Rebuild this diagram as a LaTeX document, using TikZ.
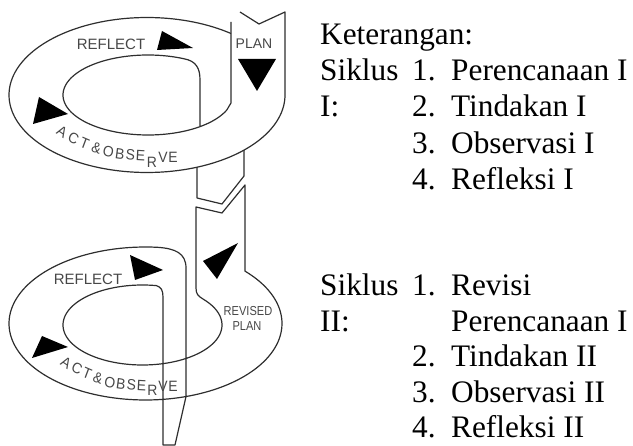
\documentclass[tikz,border=0pt]{standalone}
\usepackage{fontspec}
\setmainfont{Liberation Serif}
\newfontfamily\lblfamily{Liberation Sans}
\begin{document}
\begin{tikzpicture}[x=1pt,y=-1pt,
  ln/.style={draw=black!82, line width=1.2pt, line join=round},
  tri/.style={fill=black},
  lbl/.style={inner sep=0pt, text=black!72, font=\lblfamily\fontsize{15}{15}\selectfont},
  letter/.style={inner sep=0pt, text=black!72, font=\lblfamily\fontsize{15}{15}\selectfont, xscale=0.93},
  small/.style={inner sep=0pt, text=black!72, font=\lblfamily\fontsize{13}{13}\selectfont, xscale=0.85},
  txt/.style={inner sep=0pt, anchor=base west, font=\fontsize{31.3}{36}\selectfont}]
\useasboundingbox (0,0) rectangle (633,446);

% ---------- ring 1 ----------
% outer edge with PLAN strip
\draw[ln] (240,12) -- (259,24) -- (285,12) -- (285,95)
  -- plot[domain=0:307.5, samples=140] ({147+138*cos(\x)},{95+77.5*sin(\x)});
% inner edge with hole
\draw[ln] (231,22) -- (231,103)
  -- plot[domain=22:295, samples=120] ({148+85*cos(\x)},{95+40*sin(\x)})
  .. controls (196,61) and (200,68) .. (200,80) -- (200,126.6);
% strip leaving ring 1 (upper piece with break)
\draw[ln] (197,167.2) -- (197,198) -- (222,204) -- (244,176) -- (244,150.1);

% ---------- ring 2 ----------
\draw[ln] (245,185) -- (245,271.2)
  -- plot[domain=-43.2:275, samples=140] ({145.5+136.5*cos(\x)},{323.5+76.5*sin(\x)})
  .. controls (175,248.5) and (186,253) .. (186,268) -- (186,396.6) -- (175,445)
  -- (163,445) -- (163,297) .. controls (163,290) and (161,287) .. (156.3,285.6)
  -- plot[domain=0:320, samples=120] ({142.5+79.5*cos(280-\x)},{325+40*sin(280-\x)})
  .. controls (198,296) and (196,294) .. (196,288) -- (196,207) -- (222,213) -- cycle;

% ---------- arrowheads ----------
\fill[tri] (157,50) -- (162,31) -- (193,48) -- cycle;
\fill[tri] (238,59) -- (276,59) -- (257,91) -- cycle;
\fill[tri] (33,124) -- (39,97) -- (68,114) -- cycle;
\fill[tri] (130,255) -- (135,280) -- (163,270) -- cycle;
\fill[tri] (238,243) -- (203,261) -- (217,279) -- cycle;
\fill[tri] (32,358) -- (42,336) -- (68,347) -- cycle;

% ---------- labels ----------
\node[lbl] (refl1) at (111,44) {REFLECT};
\node[lbl, font=\lblfamily\fontsize{14}{14}\selectfont] (plan1) at (254,44) {PLAN};
\node[lbl] (refl2) at (88,279) {REFLECT};
\node[small] (rev2) at (248,311) {REVISED};
\node[small] (plan2) at (247,326) {PLAN};

\foreach \c/\px/\py/\r [count=\i] in {A/62/132/-32, C/73.5/138.5/-27, T/84.5/143/-22, \&/96.5/148/-17,
   O/108.5/152/-12, B/120/154/-8, S/130.5/155/-5, E/140.5/156/-3, R/152/162/0, V/163/157/0, E/173/157/0}
  \node[letter, rotate=\r] (actA\i) at (\px,\py) {\c};
\foreach \c/\px/\py/\r [count=\i] in {A/66/363/-32, C/77/368.5/-27, T/87/373/-22, \&/98/378/-17,
   O/110/382.5/-12, B/121/384/-8, S/131.5/385/-5, E/141.5/386/-3, R/152.5/390/0, V/163/386/0, E/173/386/0}
  \node[letter, rotate=\r] (actB\i) at (\px,\py) {\c};

% ---------- legend ----------
\node[txt] (ket) at (320,44.3) {Keterangan:};
\node[txt] (sa) at (320,80.7) {Siklus};
\node[txt] (sb) at (320,116.9) {I:};
\node[txt] (a1) at (412,80.7) {1.};
\node[txt] (a1t) at (451,80.7) {Perencanaan I};
\node[txt] (a2) at (412,116.9) {2.};
\node[txt] (a2t) at (451,116.9) {Tindakan I};
\node[txt] (a3) at (412,153.1) {3.};
\node[txt] (a3t) at (451,153.1) {Observasi I};
\node[txt] (a4) at (412,189.3) {4.};
\node[txt] (a4t) at (451,189.3) {Refleksi I};

\node[txt] (sc) at (320,296) {Siklus};
\node[txt] (sd) at (320,331.5) {II:};
\node[txt] (b1) at (412,296) {1.};
\node[txt] (b1t) at (451,296) {Revisi};
\node[txt] (b1u) at (451,331.5) {Perencanaan I};
\node[txt] (b2) at (412,367) {2.};
\node[txt] (b2t) at (451,367) {Tindakan II};
\node[txt] (b3) at (412,402.5) {3.};
\node[txt] (b3t) at (451,402.5) {Observasi II};
\node[txt] (b4) at (412,438) {4.};
\node[txt] (b4t) at (451,438) {Refleksi II};
\end{tikzpicture}
\end{document}
